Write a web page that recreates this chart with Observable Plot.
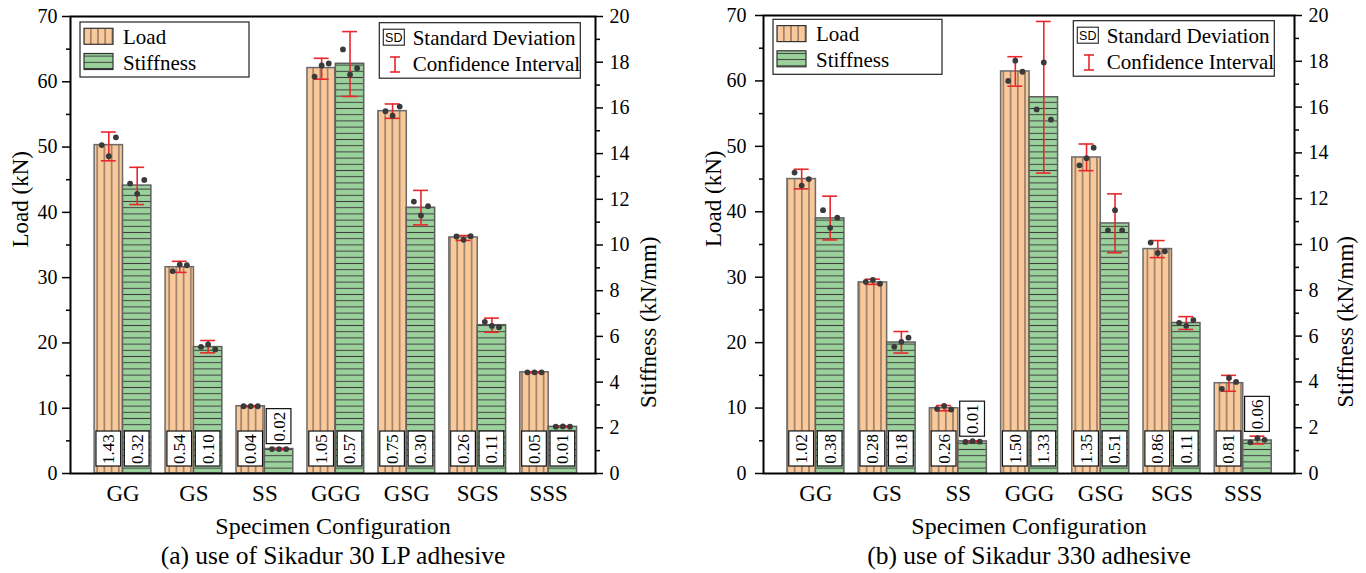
<!DOCTYPE html>
<html><head><meta charset="utf-8">
<script src="https://cdn.jsdelivr.net/npm/d3@7"></script>
<script src="https://cdn.jsdelivr.net/npm/@observablehq/plot@0.6"></script>
<style>
html,body{margin:0;padding:0;background:#fff;overflow:hidden}
#wrap{display:flex;width:1366px;height:573px}
#wrap svg{display:block;flex:none}
</style></head><body><div id="wrap"></div>
<script>
// ---------- data ----------
const categories = ["GG", "GS", "SS", "GGG", "GSG", "SGS", "SSS"];
const loadTicks = [0, 10, 20, 30, 40, 50, 60, 70];
const loadMinorTicks = [5, 15, 25, 35, 45, 55, 65];
const stiffTicks = [0, 2, 4, 6, 8, 10, 12, 14, 16, 18, 20];
const stiffMinorTicks = [1, 3, 5, 7, 9, 11, 13, 15, 17, 19];
const seriesNames = ["Load", "Stiffness"];
const xTitle = "Specimen Configuration";
const loadTitle = "Load (kN)";
const stiffTitle = "Stiffness (kN/mm)";

// (a) Sikadur 30 LP
const captionA = "(a) use of Sikadur 30 LP adhesive";
const loadMeanA = [50.3, 31.6, 10.3, 62.1, 55.5, 36.15, 15.5];
const stiffMeanA = [12.6, 5.53, 1.07, 17.93, 11.63, 6.49, 2.04];
const loadSdA = [1.43, 0.54, 0.04, 1.05, 0.75, 0.26, 0.05];
const stiffSdA = [0.32, 0.10, 0.02, 0.57, 0.30, 0.11, 0.01];
const loadCiLowA = [47.9, 30.8, 10.22, 60.4, 54.4, 35.7, 15.42];
const loadCiHighA = [52.3, 32.5, 10.38, 63.6, 56.6, 36.45, 15.58];
const stiffCiLowA = [11.77, 5.28, 1.04, 16.5, 10.88, 6.18, 2.03];
const stiffCiHighA = [13.4, 5.82, 1.10, 19.34, 12.39, 6.80, 2.08];
const loadPtsA = [[50.3, 48.6, 51.5], [31.0, 32.0, 31.9], [10.3, 10.3, 10.3], [60.8, 62.5, 62.8], [55.5, 54.8, 56.2], [36.3, 35.8, 36.35], [15.5, 15.5, 15.5]];
const stiffPtsA = [[12.69, 12.24, 12.85], [5.54, 5.65, 5.43], [1.07, 1.07, 1.07], [18.56, 17.46, 17.74], [11.9, 11.29, 11.7], [6.64, 6.46, 6.40], [2.05, 2.06, 2.05]];

// (b) Sikadur 330
const captionB = "(b) use of Sikadur 330 adhesive";
const loadMeanB = [45.0, 29.2, 9.97, 61.45, 48.3, 34.3, 13.8];
const stiffMeanB = [11.14, 5.72, 1.40, 16.43, 10.92, 6.57, 1.44];
const loadSdB = [1.02, 0.28, 0.26, 1.50, 1.35, 0.86, 0.81];
const stiffSdB = [0.38, 0.18, 0.01, 1.33, 0.51, 0.11, 0.06];
const loadCiLowB = [43.5, 28.9, 9.58, 59.2, 46.28, 33.0, 12.57];
const loadCiHighB = [46.5, 29.7, 10.39, 63.7, 50.36, 35.6, 15.0];
const stiffCiLowB = [10.2, 5.26, 1.37, 13.12, 9.64, 6.29, 1.29];
const stiffCiHighB = [12.11, 6.2, 1.42, 19.74, 12.21, 6.85, 1.63];
const loadPtsB = [[46.0, 44.0, 45.0], [29.3, 29.6, 29.0], [9.88, 10.34, 9.78], [60.0, 63.1, 61.4], [47.1, 48.2, 49.8], [35.3, 33.7, 33.96], [12.94, 14.6, 14.0]];
const stiffPtsB = [[11.5, 10.73, 11.17], [5.53, 5.75, 5.93], [1.38, 1.41, 1.39], [15.9, 17.95, 15.45], [10.62, 11.5, 10.62], [6.58, 6.45, 6.70], [1.36, 1.54, 1.47]];

// ---------- styling ----------
const K = 70 / 20; // stiffness -> load axis units
const LOAD_FILL = "#fac99b", STIFF_FILL = "#9bd29c";
const RED = "#e8282c";
const SERIF = "Liberation Serif, Times New Roman, serif";
const SANS = "Liberation Sans, Arial, sans-serif";
const ptOffsets = [-0.1, 0, 0.1];
const fmt = d3.format(".2f");

function buildRows(P) {
  const bars = [], dots = [], boxes = [];
  categories.forEach((cat, j) => {
    const i = j + 1;
    [["load", 1, -0.2], ["stiff", K, 0.2]].forEach(([s, f, off]) => {
      const c = i + off;
      const v = P[s].mean[j] * f, lo = P[s].lo[j] * f, hi = P[s].hi[j] * f;
      bars.push({s, c, v, lo, hi});
      P[s].pts[j].forEach((p, k) => dots.push({x: c + ptOffsets[k], y: p * f}));
      const b0 = v >= 6.9 ? 1.07 : hi + 0.65;
      boxes.push({c, b0, b1: b0 + 5.36, sd: fmt(P[s].sd[j])});
    });
  });
  return {bars, dots, boxes};
}

function makePanel(cfg) {
  const {sfx, P, mL, mR, mT, xDomain, lpad, caption, leg1, leg2} = cfg;
  const {bars, dots, boxes} = buildRows(P);
  const loadBars = bars.filter(d => d.s === "load");
  const stiffBars = bars.filter(d => d.s === "stiff");
  const F = {fontFamily: SERIF};
  const svg = Plot.plot({
    width: 683, height: 573,
    marginLeft: mL, marginRight: mR, marginTop: mT, marginBottom: 100,
    x: {type: "linear", domain: xDomain},
    y: {domain: [0, 70]},
    style: {background: "white", color: "black", overflow: "visible"},
    marks: [
      Plot.rect(loadBars, {x1: d => d.c - 0.2, x2: d => d.c + 0.2, y1: 0, y2: "v", fill: `url(#hv-${sfx})`, stroke: "#6b6b6b", strokeWidth: 1.5}),
      Plot.rect(stiffBars, {x1: d => d.c - 0.2, x2: d => d.c + 0.2, y1: 0, y2: "v", fill: `url(#hh-${sfx})`, stroke: "#5f5f5f", strokeWidth: 1.5}),
      Plot.ruleX(bars, {x: "c", y1: "lo", y2: "hi", stroke: RED, strokeWidth: 1.6}),
      Plot.ruleY(bars, {y: "lo", x1: d => d.c - 0.105, x2: d => d.c + 0.105, stroke: RED, strokeWidth: 1.6}),
      Plot.ruleY(bars, {y: "hi", x1: d => d.c - 0.105, x2: d => d.c + 0.105, stroke: RED, strokeWidth: 1.6}),
      Plot.dot(dots, {x: "x", y: "y", r: 2.9, fill: "#3a3a3a"}),
      Plot.rect(boxes, {x1: d => d.c - 0.174, x2: d => d.c + 0.174, y1: "b0", y2: "b1", fill: "white", stroke: "#111", strokeWidth: 1.2}),
      Plot.text(boxes, {x: "c", y: d => (d.b0 + d.b1) / 2, text: "sd", rotate: -90, fontSize: 17, fill: "black", ...F}),
      Plot.axisY({anchor: "left", ticks: loadTicks, tickSize: 8, tickPadding: lpad, fontSize: 20, strokeWidth: 1.5, label: null, ...F}),
      Plot.axisY({anchor: "left", ticks: loadMinorTicks, tickSize: 4, tickFormat: () => "", strokeWidth: 1.5, label: null}),
      Plot.axisY({anchor: "right", ticks: stiffTicks.map(v => v * K), tickFormat: v => String(Math.round(v / K)), tickSize: 7, tickPadding: 7, fontSize: 20, strokeWidth: 1.5, label: null, ...F}),
      Plot.axisY({anchor: "right", ticks: stiffMinorTicks.map(v => v * K), tickSize: 4, tickFormat: () => "", strokeWidth: 1.5, label: null}),
      Plot.axisX({ticks: [1, 2, 3, 4, 5, 6, 7], tickFormat: i => categories[i - 1], tickSize: 0, tickPadding: 11, fontSize: 23, label: null, ...F}),
      Plot.frame({stroke: "black", strokeWidth: 2}),
      Plot.text([loadTitle], {text: d => d, frameAnchor: "left", dx: -50, dy: 2.5, rotate: -90, fontSize: 23, lineAnchor: "middle", ...F}),
      Plot.text([stiffTitle], {text: d => d, frameAnchor: "right", dx: cfg.rdx, dy: -8.5, rotate: -90, fontSize: 23, lineAnchor: "middle", ...F}),
      Plot.text([xTitle], {text: d => d, frameAnchor: "bottom", dy: 53, fontSize: 24, lineAnchor: "middle", ...F}),
      Plot.text([caption], {text: d => d, frameAnchor: "bottom", dy: 82, fontSize: 25.5, lineAnchor: "middle", ...F})
    ]
  });

  const s = d3.select(svg);
  s.attr("font-family", SERIF);
  const defs = s.insert("defs", ":first-child");
  const pv = defs.append("pattern").attr("id", "hv-" + sfx).attr("patternUnits", "userSpaceOnUse").attr("width", 7.2).attr("height", 10);
  pv.append("rect").attr("width", 7.2).attr("height", 10).attr("fill", LOAD_FILL);
  pv.append("line").attr("x1", 3.6).attr("x2", 3.6).attr("y1", 0).attr("y2", 10).attr("stroke", "#5a5248").attr("stroke-width", 1);
  const ph = defs.append("pattern").attr("id", "hh-" + sfx).attr("patternUnits", "userSpaceOnUse").attr("width", 10).attr("height", 6.2);
  ph.append("rect").attr("width", 10).attr("height", 6.2).attr("fill", STIFF_FILL);
  ph.append("line").attr("x1", 0).attr("x2", 10).attr("y1", 3.1).attr("y2", 3.1).attr("stroke", "#3e3e3e").attr("stroke-width", 1);

  const txt = (g, x, y, str, size, fam, anchor) =>
    g.append("text").attr("x", x).attr("y", y).attr("font-size", size).attr("font-family", fam)
      .attr("text-anchor", anchor || "start").attr("fill", "black").text(str);

  // legend 1: series
  const g1 = s.append("g").attr("transform", `translate(${leg1[0]},${leg1[1]})`);
  g1.append("rect").attr("width", 169).attr("height", 55).attr("fill", "white").attr("stroke", "#222").attr("stroke-width", 1.2);
  g1.append("rect").attr("x", 4).attr("y", 6.3).attr("width", 29).attr("height", 16).attr("fill", `url(#hv-${sfx})`).attr("stroke", "#333").attr("stroke-width", 1.2);
  g1.append("rect").attr("x", 4).attr("y", 31.5).attr("width", 29).attr("height", 16).attr("fill", `url(#hh-${sfx})`).attr("stroke", "#333").attr("stroke-width", 1.2);
  txt(g1, 43, 22, seriesNames[0], 21, SERIF);
  txt(g1, 43, 48, seriesNames[1], 21, SERIF);

  // legend 2: SD & CI
  const g2 = s.append("g").attr("transform", `translate(${leg2[0]},${leg2[1]})`);
  g2.append("rect").attr("width", 201).attr("height", 55.5).attr("fill", "white").attr("stroke", "#222").attr("stroke-width", 1.2);
  g2.append("rect").attr("x", 4).attr("y", 6.5).attr("width", 21).attr("height", 16).attr("fill", "white").attr("stroke", "#222").attr("stroke-width", 1.1);
  txt(g2, 14.5, 19.3, "SD", 12.5, SANS, "middle");
  txt(g2, 33.4, 22.3, "Standard Deviation", 21, SERIF);
  g2.append("line").attr("x1", 15.7).attr("x2", 15.7).attr("y1", 34.3).attr("y2", 49.3).attr("stroke", RED).attr("stroke-width", 1.6);
  g2.append("line").attr("x1", 10.7).attr("x2", 20.7).attr("y1", 34.3).attr("y2", 34.3).attr("stroke", RED).attr("stroke-width", 1.6);
  g2.append("line").attr("x1", 10.7).attr("x2", 20.7).attr("y1", 49.3).attr("y2", 49.3).attr("stroke", RED).attr("stroke-width", 1.6);
  txt(g2, 33.4, 48.3, "Confidence Interval", 21, SERIF);
  return svg;
}

const PA = {
  load: {mean: loadMeanA, sd: loadSdA, lo: loadCiLowA, hi: loadCiHighA, pts: loadPtsA},
  stiff: {mean: stiffMeanA, sd: stiffSdA, lo: stiffCiLowA, hi: stiffCiHighA, pts: stiffPtsA}
};
const PB = {
  load: {mean: loadMeanB, sd: loadSdB, lo: loadCiLowB, hi: loadCiHighB, pts: loadPtsB},
  stiff: {mean: stiffMeanB, sd: stiffSdB, lo: stiffCiLowB, hi: stiffCiHighB, pts: stiffPtsB}
};

const wrap = document.getElementById("wrap");
wrap.append(
  makePanel({sfx: "a", P: PA, mL: 70, mR: 88, mT: 16, xDomain: [0.26, 7.66], lpad: 5, rdx: 53, caption: captionA, leg1: [80, 22], leg2: [379.3, 22.7]}),
  makePanel({sfx: "b", P: PB, mL: 80, mR: 72, mT: 15, xDomain: [0.264, 7.72], lpad: 9, rdx: 51, caption: captionB, leg1: [90, 19.3], leg2: [390.3, 20.7]})
);
</script>
</body></html>
